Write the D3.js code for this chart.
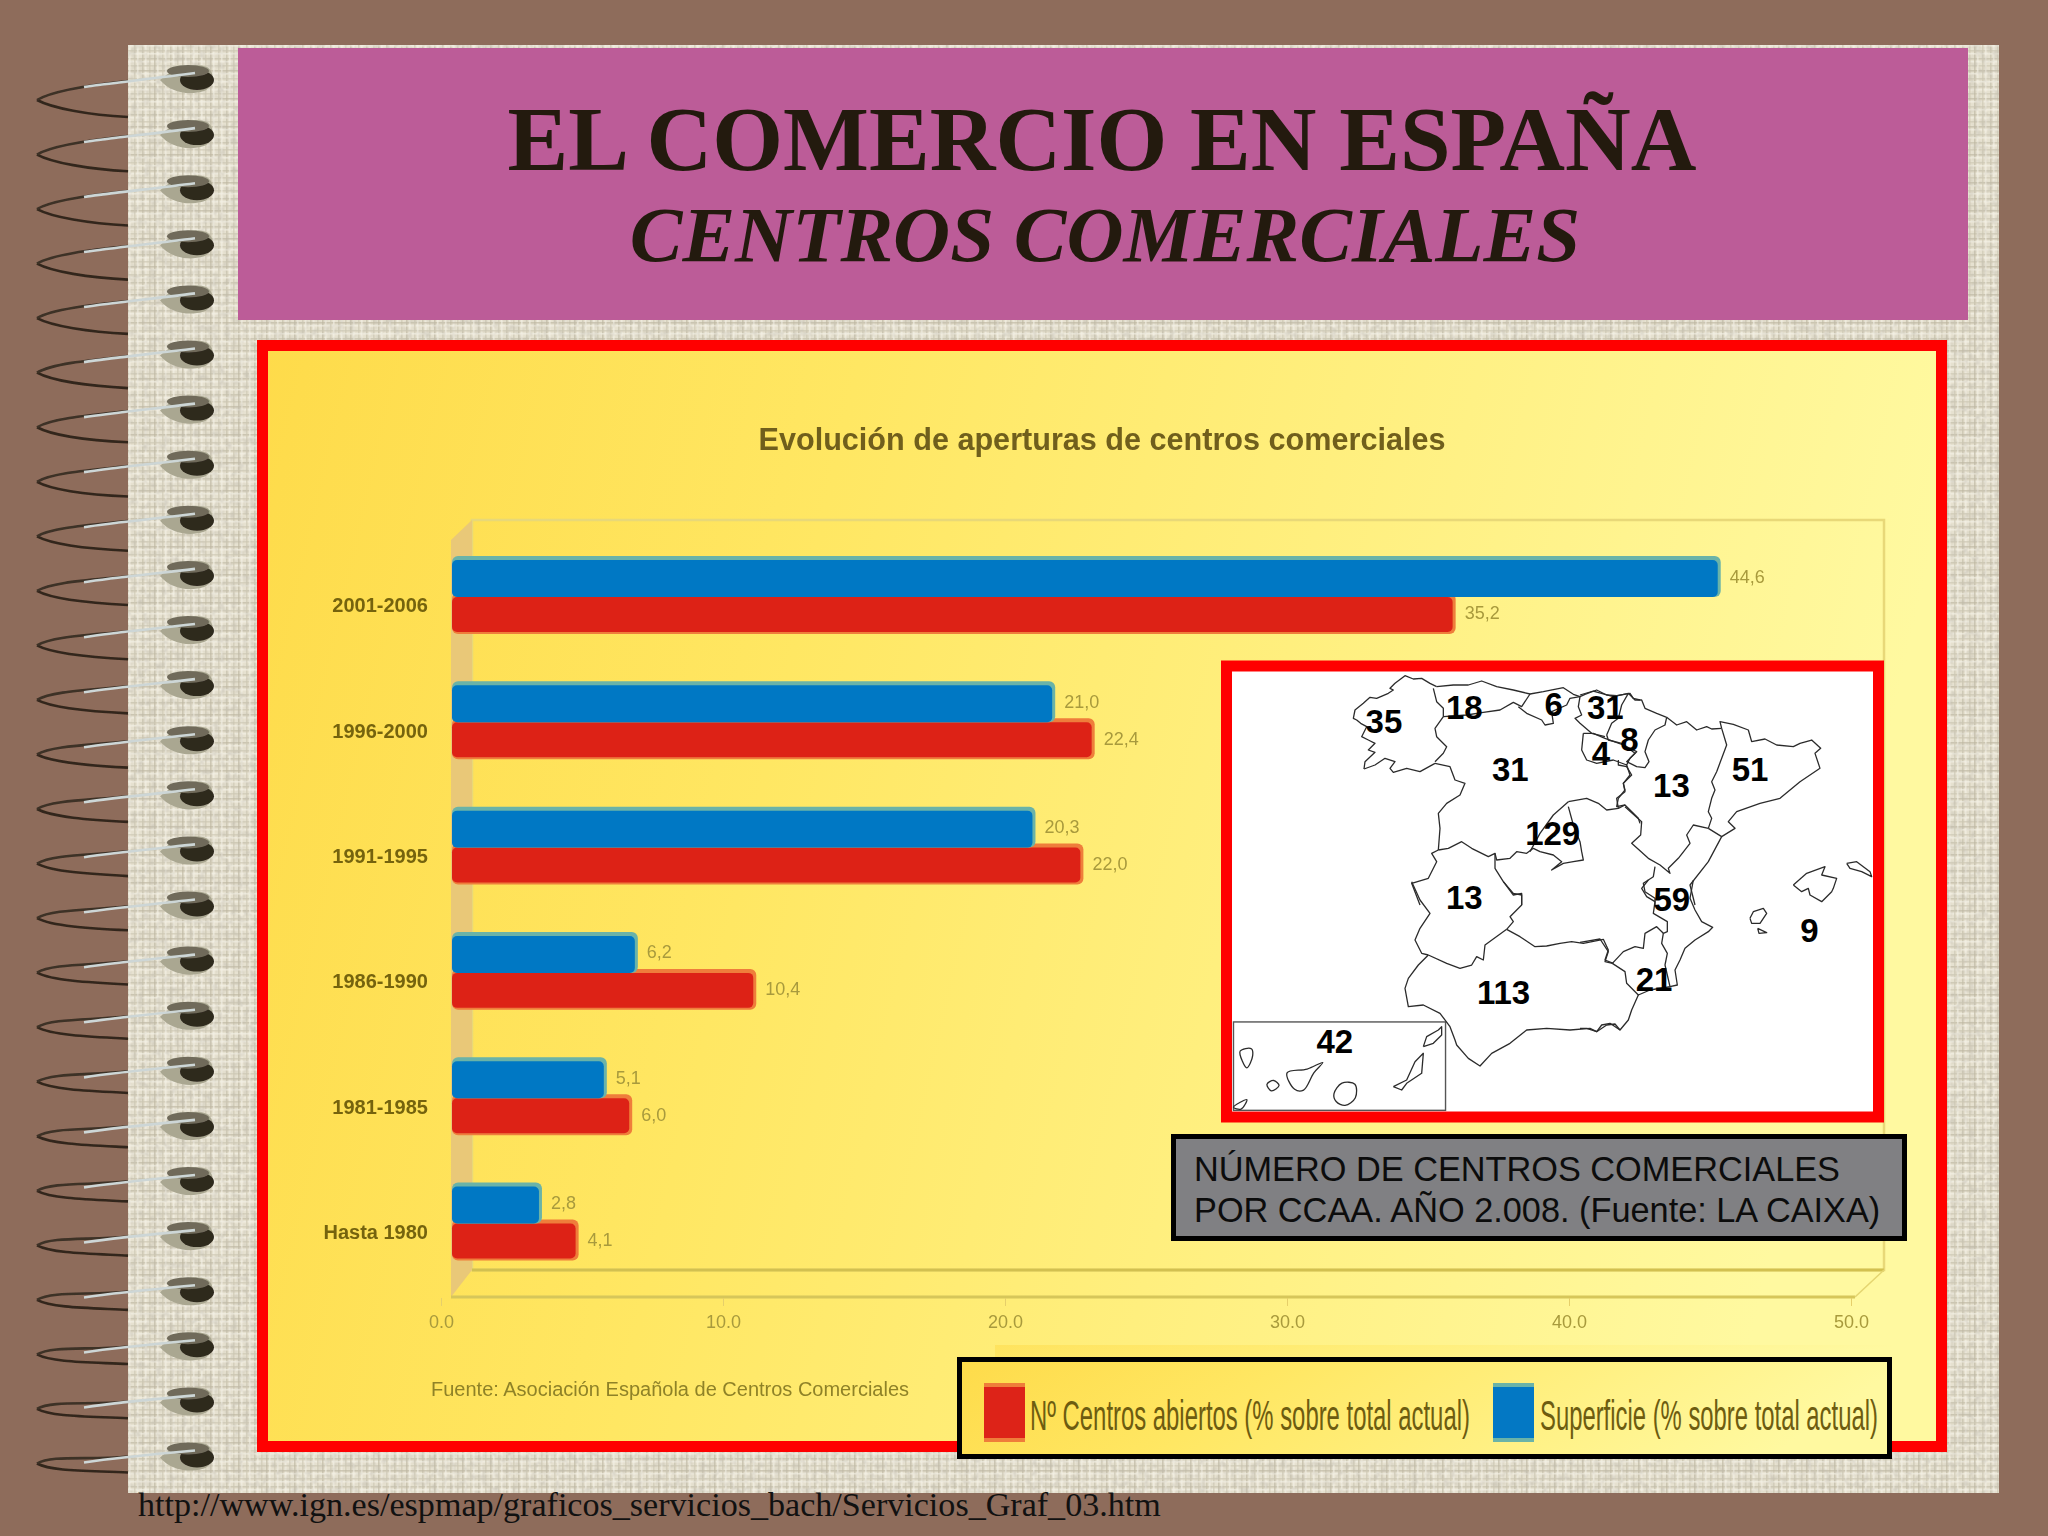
<!DOCTYPE html>
<html>
<head>
  <meta charset="utf-8">
  <script src="https://d3js.org/d3.v7.min.js"></script>
  <style>
    html, body, svg { margin: 0; padding: 0; overflow: hidden; display: block; background: #8e6c5b; }
    .y-axis path, .x-axis path { display: none; }
    .y-axis line, .x-axis line { stroke: #e6cf6a; }
  </style>
</head>
<body>
<script>
"use strict";

// Chart data
const CATEGORIES = ["2001-2006", "1996-2000", "1991-1995", "1986-1990", "1981-1985", "Hasta 1980"];
const SUPERFICIE = [44.6, 21.0, 20.3, 6.2, 5.1, 2.8];
const CENTROS = [35.2, 22.4, 22.0, 10.4, 6.0, 4.1];
const X_TICKS = [0, 10, 20, 30, 40, 50];
const LEGEND_LABELS = ["Nº Centros abiertos (% sobre total actual)", "Superficie (% sobre total actual)"];

// Map labels, number of shopping centres per region
const REGION_COUNTS = ["35", "18", "6", "31", "8", "4", "31", "13", "51", "129", "13", "59", "9", "21", "113", "42"];
const REGION_LABEL_X = [412, 592, 792, 908, 962, 898, 695, 1056, 1232, 790, 592, 1057, 1365, 1017, 680, 302];
const REGION_LABEL_Y = [185, 148, 142, 148, 232, 268, 310, 352, 310, 478, 645, 650, 733, 860, 895, 1022];

const BORDERS_NW = [
  [[72,312],[75,290],[105,262],[85,255],[105,235],[85,225],[65,215],[80,185],[62,175],[50,165],[40,160],[45,135],[70,115],[90,97],[110,100],[145,85],[160,75],[150,70],[165,55],[195,32],[220,42],[245,40],[270,55],[290,65]],
  [[290,65],[340,60],[385,60],[425,48],[470,65],[520,75],[570,87],[610,80],[670,68],[700,88],[720,95],[735,88],[770,75],[800,90],[830,92],[870,85],[880,100],[900,105]],
  [[280,70],[290,110],[310,130],[310,155],[285,190],[290,215],[320,245],[310,265],[285,290]],
  [[72,312],[105,300],[135,280],[165,290],[150,310],[160,322],[200,310],[240,320],[285,295]],
  [[285,295],[330,305],[345,345],[375,355],[360,390],[320,415],[295,445],[300,490],[295,555]],
  [[295,555],[325,550],[365,530],[395,550],[445,575],[465,565],[470,585],[510,580],[530,560],[560,565],[580,550],[600,560],[640,570],[665,590],[635,615],[670,595],[700,590],[730,585],[725,560],[720,530],[700,480],[685,425]],
  [[295,555],[275,565],[290,590],[265,640],[215,655],[240,720]],
  [[465,565],[465,610],[490,650],[520,685],[545,690],[545,720]],
  [[310,155],[380,150],[430,142],[480,135],[520,112],[545,125],[570,87]],
  [[535,125],[560,145],[605,165],[615,180],[640,175],[635,140],[680,120],[690,100],[720,95]],
  [[720,95],[715,125],[725,150],[705,160],[720,175],[755,205],[795,215]],
  [[730,205],[760,205],[795,220],[850,240],[890,260],[870,280],[860,300],[820,285],[770,295],[740,285],[725,255],[730,205]],
  [[860,300],[870,330],[850,355],[855,380],[830,400],[835,430]],
  [[685,410],[740,400],[775,415],[800,435],[835,430],[855,420],[895,460],[900,475]],
  [[685,410],[640,450],[600,505],[570,560]]
];
const BORDERS_NE = [
  [[0,90],[40,78],[75,88],[100,95],[145,85],[165,105],[185,105],[195,130],[230,145],[260,157]],
  [[145,85],[125,120],[115,160],[95,175],[80,210]],
  [[260,157],[255,180],[225,195],[205,225],[195,260],[207,290],[195,308],[170,305],[140,290],[165,265],[125,235],[85,225],[80,210]],
  [[115,285],[115,300],[140,305],[155,330],[130,355],[135,375],[115,400],[110,425],[135,420]],
  [[260,157],[290,180],[320,170],[350,195],[380,185],[395,192],[425,190]],
  [[425,190],[420,170],[460,178],[505,195],[515,230],[555,222],[590,240],[640,245],[660,235],[695,225],[722,250],[705,265],[720,310],[660,350],[600,400],[540,415],[470,440],[445,470],[465,490],[425,515]],
  [[425,190],[440,240],[410,320],[395,350],[405,375],[395,400],[385,440],[395,460],[385,490]],
  [[385,490],[340,480],[320,510],[330,535],[295,580],[265,610],[270,625],[240,600],[205,580],[155,535],[182,510],[185,470],[135,425]],
  [[385,490],[425,515],[385,590],[330,660],[345,720]],
  [[225,605],[220,635],[190,655],[195,680],[225,700],[225,720]],
  [[640,660],[680,625],[735,605],[725,630],[770,640],[760,670],[755,680],[725,710],[690,690],[685,670],[665,680],[640,660]],
  [[800,595],[830,590],[870,620],[875,635],[845,620],[810,610],[800,595]]
];
const BORDERS_SW = [
  [[215,5],[240,60],[270,100],[240,145],[225,180],[245,220],[265,225]],
  [[490,5],[520,45],[545,40],[545,75],[510,110],[520,125],[500,148]],
  [[265,225],[320,250],[360,265],[395,255],[410,230],[430,240],[435,195],[500,148]],
  [[500,148],[540,170],[585,200],[620,198],[660,190],[695,185],[730,190],[790,178],[805,210],[795,240],[820,250]],
  [[265,225],[235,255],[205,295],[195,325],[205,380],[250,375],[300,400],[330,440],[345,480],[350,495],[385,535],[420,558],[455,520],[510,490],[560,450],[620,445],[690,450],[750,445],[770,455],[800,435],[825,432],[840,450]],
  [[250,500],[260,470],[295,450],[305,440],[305,465],[280,490],[250,500]],
  [[160,620],[200,600],[225,545],[250,520],[245,580],[200,610],[185,630],[160,620]]
];
const BORDERS_SE = [
  [[340,0],[330,55],[345,90],[365,125],[398,142],[385,155],[345,180],[315,205],[300,240],[285,270],[292,315],[270,320]],
  [[205,0],[185,25],[200,50],[225,65],[220,100],[262,125],[262,155],[250,160],[245,190],[262,220],[255,255],[270,320]],
  [[97,250],[130,215],[165,200],[190,205],[195,160],[230,140],[250,160]],
  [[97,250],[135,275],[140,310],[175,345],[210,330],[270,320]],
  [[175,345],[155,390],[145,420],[120,450],[90,430],[65,435],[50,455],[20,445],[0,445]],
  [[0,187],[60,177],[85,215],[75,245],[97,250]],
  [[510,115],[520,95],[550,85],[560,100],[540,130],[515,130],[510,115]],
  [[533,145],[560,158],[537,160],[533,145]]
];
// Western Canary Islands, smoothed, in the full-map crop coordinates
const ISLANDS_WEST = [
  [[90,1048],[115,1042],[118,1060],[105,1092],[95,1075]],
  [[150,1135],[165,1125],[177,1138],[160,1152]],
  [[195,1105],[240,1095],[275,1078],[255,1105],[232,1150],[212,1148]],
  [[300,1160],[318,1132],[347,1135],[348,1170],[325,1190],[305,1180]],
  [[75,1195],[105,1175],[92,1200]]
];

const WIDTH = 2048;
const HEIGHT = 1536;
const SANS = "'Liberation Sans', Arial, sans-serif";
const SERIF = "'Liberation Serif', 'Times New Roman', serif";
const RED = "#dd2318";
const RED_TOP = "#ef7d3a";
const BLUE = "#0378c4";
const BLUE_TOP = "#6ab3a8";
const INK = "#75640f";
const PALE_INK = "#a89a3c";

const svg = d3.select("body").append("svg").attr("width", WIDTH).attr("height", HEIGHT);
const defs = svg.append("defs");

// Yellow background gradient used by the chart panel and the legend
function addYellow(id) {
  const g = defs.append("linearGradient").attr("id", id).attr("x1", 0).attr("y1", 0).attr("x2", 1).attr("y2", 0.15);
  g.append("stop").attr("offset", "0").attr("stop-color", "#fedb4a");
  g.append("stop").attr("offset", "0.35").attr("stop-color", "#ffe763");
  g.append("stop").attr("offset", "1").attr("stop-color", "#fff9a0");
}
addYellow("panel-fill");
addYellow("legend-fill");

// Woven paper texture
const weave = defs.append("pattern").attr("id", "weave").attr("width", 28).attr("height", 28).attr("patternUnits", "userSpaceOnUse");
weave.append("rect").attr("width", 28).attr("height", 28).attr("fill", "#e6e1d0");
[[2, "#c4bda8"], [5, "#f3f0e5"], [9, "#cdc6b2"], [14, "#bdb6a0"], [17, "#f3f0e5"], [22, "#cdc6b2"], [25, "#f3f0e5"]].forEach(function(line) {
  weave.append("rect").attr("x", line[0]).attr("width", 1.6).attr("height", 28).attr("fill", line[1]).attr("opacity", 0.65);
  weave.append("rect").attr("y", line[0]).attr("width", 28).attr("height", 1.6).attr("fill", line[1]).attr("opacity", 0.65);
});

defs.append("filter").attr("id", "soft").append("feGaussianBlur").attr("stdDeviation", 0.7);
defs.append("filter").attr("id", "softer").append("feGaussianBlur").attr("stdDeviation", 0.4);

// Mottling over the weave
const mottle = defs.append("filter").attr("id", "mottle").attr("x", 0).attr("y", 0).attr("width", 1).attr("height", 1);
mottle.append("feTurbulence").attr("type", "fractalNoise").attr("baseFrequency", 0.16).attr("numOctaves", 2).attr("seed", 4);
mottle.append("feColorMatrix").attr("type", "matrix").attr("values", "0 0 0 0 0.55  0 0 0 0 0.52  0 0 0 0 0.44  1.3 0 0 0 -0.55");

/******************** Page ********************/
svg.append("rect").attr("width", WIDTH).attr("height", HEIGHT).attr("fill", "#8e6c5b");
svg.append("rect").attr("x", 128).attr("y", 45).attr("width", 1871).attr("height", 1448).attr("fill", "url(#weave)");
svg.append("rect").attr("x", 128).attr("y", 45).attr("width", 1871).attr("height", 1448).attr("filter", "url(#mottle)");
svg.append("rect").attr("x", 238).attr("y", 48).attr("width", 1730).attr("height", 272).attr("fill", "#bc5c98");

svg.append("text").attr("x", 1102).attr("y", 170).attr("text-anchor", "middle")
  .attr("font-family", SERIF).attr("font-weight", "bold").attr("font-size", 91).attr("fill", "#231a0e")
  .text("EL COMERCIO EN ESPAÑA");
svg.append("text").attr("x", 1105).attr("y", 261).attr("text-anchor", "middle")
  .attr("font-family", SERIF).attr("font-weight", "bold").attr("font-style", "italic").attr("font-size", 79).attr("fill", "#231a0e")
  .text("CENTROS COMERCIALES");

// Spiral binding, the loops flatten towards the bottom of the page
const RING_COUNT = 26;
const RING_STEP = 55.1;

function loopDepth(i) { return i / (RING_COUNT - 1); }
function tipY(i) { return 76 + 24 - 14 * loopDepth(i); }
function endY(i) { return 76 + 41 - 22 * loopDepth(i); }
function upperY(i) { return 76 + 5 - 2 * loopDepth(i); }

const rings = svg.append("g").selectAll("g").data(d3.range(RING_COUNT)).join("g")
  .attr("transform", function(d) { return "translate(0," + (d * RING_STEP) + ")"; })
  .attr("filter", "url(#soft)");
rings.append("path").attr("d", "M160,80 C175,66 195,62 207,67 C216,73 214,87 204,91 C188,96 170,92 160,80 Z").attr("fill", "#aaa791");
rings.append("ellipse").attr("cx", 197).attr("cy", 80).attr("rx", 17).attr("ry", 10).attr("fill", "#2f291f");
rings.append("ellipse").attr("cx", 188).attr("cy", 71).attr("rx", 21).attr("ry", 6).attr("fill", "#6f6b5a");
rings.append("path")
  .attr("d", function(d) { return "M37," + tipY(d) + " C52," + (tipY(d) + 8) + " 88," + (endY(d) - 2) + " 128," + endY(d); })
  .attr("fill", "none").attr("stroke", "#33261b").attr("stroke-width", 2.6);
rings.append("path")
  .attr("d", function(d) { return "M37," + tipY(d) + " C52," + (tipY(d) - 9) + " 90," + (upperY(d) + 4) + " 128," + upperY(d); })
  .attr("fill", "none").attr("stroke", "#3c3026").attr("stroke-width", 2.6);
rings.append("path")
  .attr("d", function(d) { return "M84," + (upperY(d) + 6) + " C110," + (upperY(d) + 2) + " 150," + (upperY(d) - 2) + " 195,73"; })
  .attr("fill", "none").attr("stroke", "#cdd6d6").attr("stroke-width", 2.6);

/******************** Chart panel ********************/
svg.append("rect").attr("x", 262.5).attr("y", 345.5).attr("width", 1679).attr("height", 1101)
  .attr("fill", "url(#panel-fill)").attr("stroke", "#ff0000").attr("stroke-width", 11);

svg.append("text").attr("x", 1102).attr("y", 450).attr("text-anchor", "middle")
  .attr("font-family", SANS).attr("font-weight", "bold").attr("font-size", 30.6).attr("fill", "#6f5f1c").attr("filter", "url(#soft)")
  .text("Evolución de aperturas de centros comerciales");

// Scales
const xScale = d3.scaleLinear().domain([0, 50]).range([441, 1851]);
const yScale = d3.scaleBand().domain(CATEGORIES).range([532.35, 1284.15]).paddingInner(0.41).paddingOuter(0.205);
const seriesScale = d3.scaleBand().domain(["superficie", "centros"]).range([0, yScale.bandwidth()]);

// 3D wall and floor of the plot box
const plot = svg.append("g");
plot.append("rect").attr("x", 472).attr("y", 520).attr("width", 1412).attr("height", 750)
  .attr("fill", "none").attr("stroke", "#e8d878").attr("stroke-width", 2.5);
plot.append("path").attr("d", "M451,540 L472,520 L472,1270 L451,1297 Z").attr("fill", "#e9c878");
plot.append("path").attr("d", "M472,1270 L1884,1270").attr("stroke", "#d2c050").attr("stroke-width", 3);
plot.append("path").attr("d", "M451,1297 L1855,1297").attr("stroke", "#d6c65a").attr("stroke-width", 3);
plot.append("path").attr("d", "M1855,1297 L1884,1270").attr("stroke", "#e4d570").attr("stroke-width", 1.5);

// Bars sit on the depth plane, shifted from the axis positions
const BAR_SHIFT_X = 22;
const BAR_START = xScale(0) + 11;
const CAP = 2;

function drawSeries(values, key, topColor, bodyColor, bottomColor) {
  const rows = svg.append("g").selectAll("g").data(values).join("g")
    .attr("transform", function(d, i) {
      return "translate(0," + (yScale(CATEGORIES[i]) + seriesScale(key) - CAP) + ")";
    });
  const barHeight = seriesScale.bandwidth() + CAP * 2;
  rows.append("rect")
    .attr("x", BAR_START).attr("width", function(d) { return xScale(d) + BAR_SHIFT_X - BAR_START; })
    .attr("height", barHeight).attr("rx", 6).attr("fill", topColor).attr("filter", "url(#softer)");
  rows.append("rect")
    .attr("x", BAR_START).attr("y", 4).attr("width", function(d) { return xScale(d) + BAR_SHIFT_X - BAR_START - 3; })
    .attr("height", barHeight - (bottomColor ? 6 : 4)).attr("rx", 5).attr("fill", bodyColor).attr("filter", "url(#softer)");
  rows.append("text")
    .attr("x", function(d) { return xScale(d) + BAR_SHIFT_X + 9; })
    .attr("y", barHeight / 2 + 6)
    .attr("font-family", SANS).attr("font-size", 18).attr("fill", PALE_INK).attr("filter", "url(#soft)")
    .text(function(d) { return d.toFixed(1).replace(".", ","); });
}

drawSeries(CENTROS, "centros", RED_TOP, RED, true);
drawSeries(SUPERFICIE, "superficie", BLUE_TOP, BLUE, false);

// Axes
const xAxis = svg.append("g").attr("class", "x-axis").attr("transform", "translate(0,1298)")
  .call(d3.axisBottom(xScale).tickValues(X_TICKS).tickSize(8).tickPadding(9).tickFormat(function(d) { return d.toFixed(1); }));
xAxis.selectAll("text").attr("font-family", SANS).attr("font-size", 18).attr("fill", PALE_INK).attr("filter", "url(#soft)");

const yAxis = svg.append("g").attr("class", "y-axis").attr("transform", "translate(451,11)")
  .call(d3.axisLeft(yScale).tickSize(0).tickPadding(23));
yAxis.selectAll("text").attr("font-family", SANS).attr("font-weight", "bold").attr("font-size", 20).attr("fill", INK).attr("filter", "url(#soft)");

svg.append("text").attr("x", 431).attr("y", 1396)
  .attr("font-family", SANS).attr("font-size", 20).attr("fill", "#8f8228").attr("filter", "url(#soft)")
  .text("Fuente: Asociación Española de Centros Comerciales");

/******************** Map inset ********************/
const mapX = d3.scaleLinear().domain([0, 1568]).range([1200, 1900]);
const mapY = d3.scaleLinear().domain([0, 1568]).range([650, 1250]);

svg.append("rect").attr("x", 1226.5).attr("y", 666).attr("width", 652).attr("height", 451)
  .attr("fill", "#ffffff").attr("stroke", "#ff0000").attr("stroke-width", 11);

// Canary Islands box
svg.append("rect").attr("x", mapX(75)).attr("y", mapY(972)).attr("width", mapX(550) - mapX(75)).attr("height", mapY(1203) - mapY(972))
  .attr("fill", "none").attr("stroke", "#555555").attr("stroke-width", 1.4);

const mapLayer = svg.append("g").attr("filter", "url(#softer)");

function drawBorders(lines, originX, originY) {
  const cropLine = d3.line()
    .x(function(d) { return originX + d[0] / 3; })
    .y(function(d) { return originY + d[1] / 3; });
  mapLayer.append("g").selectAll("path").data(lines).join("path")
    .attr("d", cropLine).attr("fill", "none").attr("stroke", "#2c2c2c").attr("stroke-width", 1.3).attr("stroke-linejoin", "round");
}
drawBorders(BORDERS_NW, 1340, 665);
drawBorders(BORDERS_NE, 1580, 665);
drawBorders(BORDERS_SW, 1340, 880);
drawBorders(BORDERS_SE, 1580, 880);

const islandLine = d3.line().curve(d3.curveCatmullRomClosed)
  .x(function(d) { return mapX(d[0]); })
  .y(function(d) { return mapY(d[1]); });
mapLayer.append("g").selectAll("path").data(ISLANDS_WEST).join("path")
  .attr("d", islandLine).attr("fill", "none").attr("stroke", "#2c2c2c").attr("stroke-width", 1.3);

svg.append("g").selectAll("text").data(REGION_COUNTS).join("text")
  .attr("x", function(d, i) { return mapX(REGION_LABEL_X[i]); })
  .attr("y", function(d, i) { return mapY(REGION_LABEL_Y[i]) + 12; })
  .attr("text-anchor", "middle")
  .attr("font-family", SANS).attr("font-weight", "bold").attr("font-size", 33).attr("fill", "#000000")
  .text(function(d) { return d; });

/******************** Caption box ********************/
svg.append("rect").attr("x", 1173.5).attr("y", 1136.5).attr("width", 731).attr("height", 102)
  .attr("fill", "#808083").attr("stroke", "#000000").attr("stroke-width", 5);
svg.append("text").attr("x", 1194).attr("y", 1181).attr("font-family", SANS).attr("font-size", 34.3).attr("fill", "#0c0c0c")
  .text("NÚMERO DE CENTROS COMERCIALES");
svg.append("text").attr("x", 1194).attr("y", 1222).attr("font-family", SANS).attr("font-size", 34.3).attr("fill", "#0c0c0c")
  .text("POR CCAA. AÑO 2.008. (Fuente: LA CAIXA)");

/******************** Legend ********************/
svg.append("rect").attr("x", 995).attr("y", 1345).attr("width", 897).attr("height", 14).attr("fill", "url(#legend-fill)").attr("opacity", 0.55);
svg.append("rect").attr("x", 959.5).attr("y", 1359.5).attr("width", 930).attr("height", 97)
  .attr("fill", "url(#legend-fill)").attr("stroke", "#000000").attr("stroke-width", 5);

const legendItems = [
  { swatch: 984, text: 1030, textWidth: 440, top: RED_TOP, body: RED },
  { swatch: 1493, text: 1540, textWidth: 338, top: BLUE_TOP, body: BLUE }
];
const legend = svg.append("g").selectAll("g").data(legendItems).join("g");
legend.append("rect").attr("x", function(d) { return d.swatch; }).attr("y", 1383).attr("width", 41).attr("height", 59)
  .attr("fill", function(d) { return d.top; });
legend.append("rect").attr("x", function(d) { return d.swatch; }).attr("y", 1387).attr("width", 41).attr("height", 51)
  .attr("fill", function(d) { return d.body; });
// The labels are squeezed horizontally in the original
legend.append("text")
  .attr("font-family", SANS).attr("font-size", 42).attr("fill", "#6d5c10")
  .text(function(d, i) { return LEGEND_LABELS[i]; })
  .attr("transform", function(d) {
    return "translate(" + d.text + ",1430) scale(" + (d.textWidth / this.getComputedTextLength()) + ",1)";
  });

/******************** Source link ********************/
svg.append("text").attr("x", 138).attr("y", 1516).attr("font-family", SERIF).attr("font-size", 34.1).attr("fill", "#111111")
  .text("http://www.ign.es/espmap/graficos_servicios_bach/Servicios_Graf_03.htm");
</script>
</body>
</html>
